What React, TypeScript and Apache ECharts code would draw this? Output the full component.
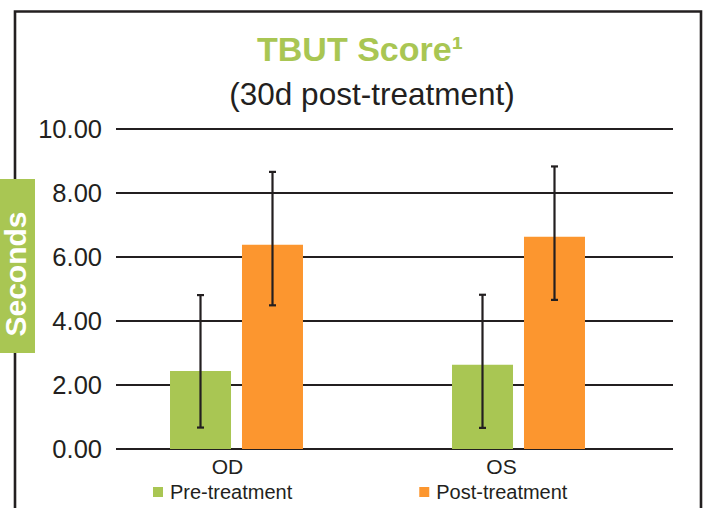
import React, { useEffect, useRef } from "react";
import * as echarts from "echarts";

const categories = ["OD", "OS"];
const seriesNames = ["Pre-treatment", "Post-treatment"];
const preValues = [2.44, 2.63];
const postValues = [6.38, 6.63];
const preErrLow = [0.67, 0.66];
const preErrHigh = [4.81, 4.82];
const postErrLow = [4.49, 4.66];
const postErrHigh = [8.66, 8.83];
const yTicks = [0, 2, 4, 6, 8, 10];

const DARK = "#231f20";
const GREEN = "#a9c653";
const ORANGE = "#fc962f";
const FONT = "'Liberation Sans', Arial, Helvetica, sans-serif";

export default function App() {
  const ref = useRef<HTMLDivElement>(null);
  useEffect(() => {
    if (!ref.current) return;
    const chart = echarts.init(ref.current, null, { renderer: "svg" });
    const BAR_W = 61;
    const OFF = 36;
    const errRender = (offset: number) => (params: any, api: any) => {
      const c = api.value(0);
      const lo = api.coord([c, api.value(1)]);
      const hi = api.coord([c, api.value(2)]);
      const x = lo[0] + offset;
      const cap = 3.5;
      const st = { stroke: DARK, lineWidth: 2.2 };
      return {
        type: "group",
        children: [
          { type: "line", shape: { x1: x, y1: lo[1], x2: x, y2: hi[1] }, style: st },
          { type: "line", shape: { x1: x - cap, y1: lo[1], x2: x + cap, y2: lo[1] }, style: st },
          { type: "line", shape: { x1: x - cap, y1: hi[1], x2: x + cap, y2: hi[1] }, style: st },
        ],
      };
    };
    chart.setOption({
      animation: false,
      textStyle: { fontFamily: FONT },
      grid: [
        { left: 116, right: 36, top: 129, bottom: 59 },
        { left: 95.5, right: 49.5, top: 129, bottom: 59 },
        { left: 90.5, right: 70.5, top: 129, bottom: 59 },
      ],
      xAxis: [
        { type: "category", gridIndex: 0, data: categories, show: false },
        { type: "category", gridIndex: 1, data: categories, show: false },
        {
          type: "category",
          gridIndex: 2,
          data: categories,
          axisLine: { show: false },
          axisTick: { show: false },
          axisLabel: { color: DARK, fontSize: 21, margin: 7, fontFamily: FONT },
        },
      ],
      yAxis: [
        {
          type: "value",
          gridIndex: 0,
          min: yTicks[0],
          max: yTicks[yTicks.length - 1],
          interval: 2,
          axisLine: { show: false },
          axisTick: { show: false },
          axisLabel: {
            color: DARK,
            fontSize: 25.5,
            margin: 14,
            fontFamily: FONT,
            formatter: (v: number) => v.toFixed(2),
          },
          splitLine: { lineStyle: { color: DARK, width: 2.2 } },
        },
        { type: "value", gridIndex: 1, min: 0, max: 10, show: false },
        { type: "value", gridIndex: 2, min: 0, max: 10, show: false },
      ],
      legend: {
        data: seriesNames,
        left: 153,
        top: 482,
        padding: 0,
        itemWidth: 10,
        itemHeight: 10,
        itemGap: 127,
        icon: "rect",
        textStyle: { color: DARK, fontSize: 20, fontFamily: FONT, padding: [0, 0, 0, 2] },
      },
      series: [
        {
          name: seriesNames[0],
          type: "bar",
          xAxisIndex: 1,
          yAxisIndex: 1,
          barWidth: BAR_W,
          barGap: "18%",
          itemStyle: { color: GREEN },
          data: preValues,
        },
        {
          name: seriesNames[1],
          type: "bar",
          xAxisIndex: 1,
          yAxisIndex: 1,
          barWidth: BAR_W,
          barGap: "18%",
          itemStyle: { color: ORANGE },
          data: postValues,
        },
        {
          type: "custom",
          xAxisIndex: 1,
          yAxisIndex: 1,
          renderItem: errRender(-OFF),
          encode: { x: 0, y: [1, 2] },
          data: categories.map((_, i) => [i, preErrLow[i], preErrHigh[i]]),
          z: 10,
        },
        {
          type: "custom",
          xAxisIndex: 1,
          yAxisIndex: 1,
          renderItem: errRender(OFF),
          encode: { x: 0, y: [1, 2] },
          data: categories.map((_, i) => [i, postErrLow[i], postErrHigh[i]]),
          z: 10,
        },
      ],
      graphic: [
        {
          type: "polyline",
          shape: { points: [[15, 520], [15, 11.5], [701, 11.5], [701, 520]] },
          style: { stroke: DARK, lineWidth: 2.6, fill: null },
          z: 0,
        },
        {
          type: "rect",
          shape: { x: 0, y: 179, width: 35, height: 174 },
          style: { fill: GREEN },
          z: 5,
        },
        {
          type: "text",
          x: 15.5,
          y: 274,
          rotation: Math.PI / 2,
          style: {
            text: "Seconds",
            fill: "#ffffff",
            font: `bold 30px ${FONT}`,
            lineHeight: 28,
            align: "center",
            verticalAlign: "middle",
          },
          z: 6,
        },
        {
          type: "text",
          x: 360,
          y: 49,
          style: {
            text: "TBUT Score¹",
            fill: GREEN,
            font: `bold 34px ${FONT}`,
            align: "center",
            verticalAlign: "middle",
          },
        },
        {
          type: "text",
          x: 372,
          y: 94,
          style: {
            text: "(30d post-treatment)",
            fill: DARK,
            font: `31.5px ${FONT}`,
            align: "center",
            verticalAlign: "middle",
          },
        },
      ],
    });
    return () => chart.dispose();
  }, []);
  return (
    <div
      ref={ref}
      style={{ position: "fixed", left: 0, top: 0, width: 709, height: 508, background: "#fff" }}
    />
  );
}
